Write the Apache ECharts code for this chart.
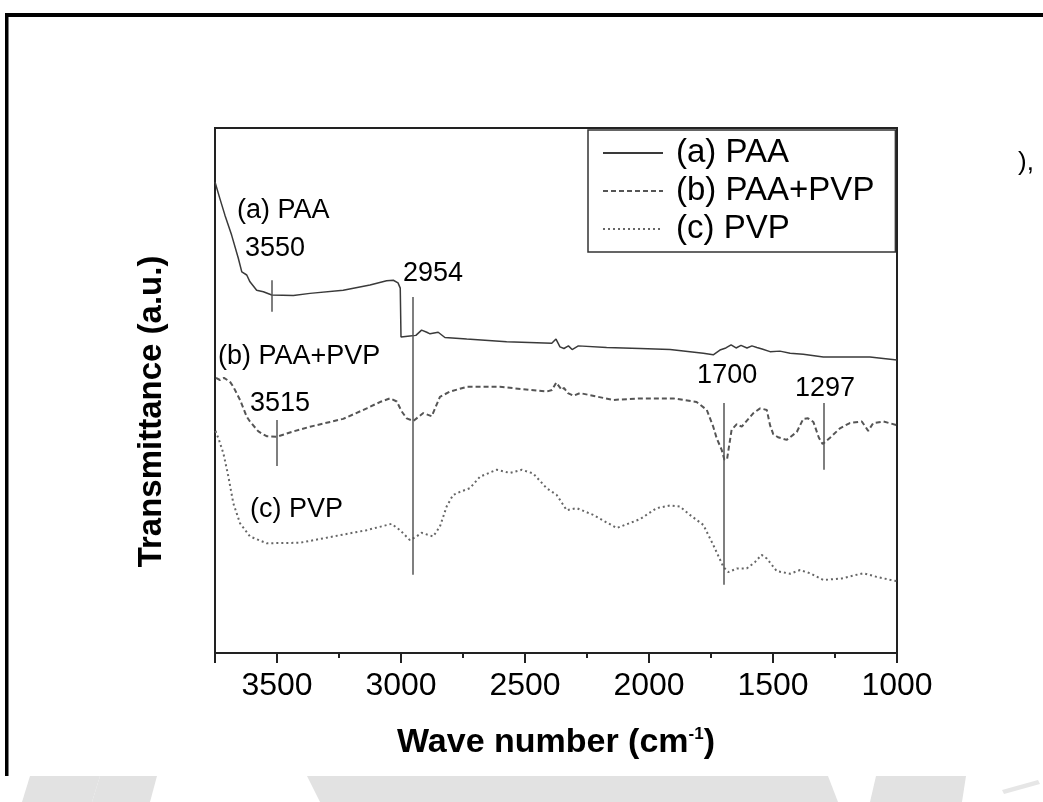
<!DOCTYPE html>
<html>
<head>
<meta charset="utf-8">
<title>FTIR</title>
<script src="https://cdn.jsdelivr.net/npm/echarts@6.0.0/dist/echarts.min.js"></script>
<style>
    html, body { margin: 0; padding: 0; background: #fff; }
    #ftirChart { width: 1043px; height: 802px; }
</style>
</head>
<body>
<div id="ftirChart"></div>
<script>
    // wave number (cm-1) and transmittance (a.u.)
    const waveA = [3750, 3730, 3710, 3683, 3656, 3642, 3622, 3609, 3582, 3555, 3521, 3434, 3367, 3233, 3125, 3058, 3031, 3012, 3003, 3000, 2964, 2940, 2917, 2896, 2883, 2850, 2823, 2735, 2574, 2392, 2375, 2359, 2343, 2325, 2310, 2285, 2171, 2036, 1915, 1781, 1741, 1714, 1690, 1669, 1649, 1629, 1605, 1585, 1565, 1544, 1512, 1472, 1431, 1378, 1297, 1109, 1055, 1000]
    const transA = [89.7, 86.5, 83.4, 79.6, 75.2, 72.6, 72.0, 70.7, 69.1, 68.8, 68.2, 68.1, 68.5, 69.1, 70.1, 70.9, 71.0, 70.5, 69.5, 60.2, 60.4, 60.5, 61.5, 61.1, 60.8, 61.1, 60.1, 59.8, 59.3, 59.0, 59.8, 58.3, 58.0, 58.5, 57.8, 58.5, 58.2, 58.0, 57.8, 57.1, 56.8, 57.7, 58.1, 58.7, 58.1, 58.6, 58.1, 58.5, 58.2, 57.9, 57.4, 57.5, 57.1, 56.9, 56.4, 56.4, 56.1, 55.8]

    const waveB = [3746, 3730, 3714, 3690, 3676, 3649, 3622, 3609, 3575, 3542, 3501, 3434, 3367, 3233, 3138, 3085, 3044, 3017, 2997, 2977, 2950, 2910, 2876, 2843, 2802, 2735, 2601, 2413, 2391, 2374, 2352, 2343, 2327, 2305, 2278, 2144, 2036, 1902, 1808, 1767, 1741, 1727, 1707, 1696, 1685, 1667, 1646, 1626, 1579, 1552, 1525, 1512, 1499, 1480, 1445, 1404, 1378, 1359, 1337, 1315, 1300, 1270, 1230, 1190, 1142, 1116, 1096, 1055, 1000]
    const transB = [52.4, 52.0, 52.4, 51.7, 50.7, 48.2, 45.0, 44.1, 42.2, 41.3, 41.2, 42.2, 43.1, 44.6, 46.6, 47.8, 48.5, 47.9, 46.0, 44.7, 44.2, 45.7, 45.1, 48.8, 49.8, 50.7, 50.7, 49.8, 50.1, 51.5, 50.1, 50.5, 49.5, 49.0, 49.5, 48.2, 48.5, 48.5, 47.8, 46.3, 43.1, 40.9, 38.7, 36.8, 37.0, 42.5, 43.6, 43.1, 45.7, 46.6, 46.3, 43.4, 41.7, 41.1, 40.6, 42.1, 44.6, 44.7, 44.0, 41.0, 39.8, 41.0, 42.8, 43.8, 44.1, 42.3, 43.8, 44.1, 43.4]

    const waveC = [3748, 3734, 3716, 3696, 3676, 3649, 3609, 3542, 3407, 3273, 3138, 3038, 3004, 2964, 2940, 2917, 2870, 2843, 2816, 2790, 2762, 2722, 2681, 2614, 2560, 2513, 2467, 2413, 2372, 2332, 2292, 2225, 2130, 2036, 1969, 1915, 1875, 1835, 1781, 1741, 1700, 1680, 1646, 1606, 1573, 1546, 1525, 1485, 1431, 1391, 1351, 1297, 1223, 1136, 1082, 1015, 1000]
    const transC = [42.3, 40.6, 38.0, 33.6, 28.5, 24.7, 22.2, 20.9, 21.0, 22.2, 23.4, 24.6, 23.4, 21.5, 22.1, 22.9, 22.2, 24.1, 27.9, 30.1, 30.7, 31.4, 33.6, 34.9, 34.3, 34.9, 34.2, 31.4, 30.1, 27.2, 27.6, 26.3, 23.8, 25.5, 27.6, 28.1, 27.9, 26.3, 24.4, 20.6, 16.4, 15.4, 16.1, 16.1, 17.3, 18.7, 18.0, 15.6, 15.1, 15.8, 15.2, 13.9, 14.2, 15.2, 14.5, 13.8, 13.7]

    const seriesNames = ['(a) PAA', '(b) PAA+PVP', '(c) PVP']

    // peak marker lines: position, top and bottom
    const markerWave = [3520, 2954, 3500, 1700, 1297]
    const markerTop = [71.0, 67.8, 44.4, 47.6, 47.6]
    const markerBottom = [65.0, 14.9, 35.6, 13.0, 34.9]

    // text annotations inside the plot (left edge, middle)
    const noteText = ['(a) PAA', '3550', '2954', '(b) PAA+PVP', '3515', '(c) PVP', '1700', '1297']
    const noteWave = [3661, 3629, 2992, 3738, 3609, 3609, 1806, 1411]
    const noteTrans = [84.2, 77.0, 72.3, 56.4, 47.6, 27.4, 52.8, 50.3]

    const xTicks = [1000, 1500, 2000, 2500, 3000, 3500]

    const FONT = '"Liberation Sans", Arial, Helvetica, sans-serif'

    const pairs = (xs, ys) => xs.map((x, i) => [x, ys[i]])

    const ftirOption = {
        animation: false,
        backgroundColor: '#fff',
        grid: {
            left: 215,
            right: 146,
            top: 128,
            bottom: 149,
            show: true,
            borderColor: '#222',
            borderWidth: 2
        },
        legend: {
            data: seriesNames,
            orient: 'vertical',
            left: 588,
            top: 130,
            padding: [4, 21, 4, 14],
            itemGap: 0,
            itemWidth: 60,
            itemHeight: 14,
            borderColor: '#333',
            borderWidth: 1.5,
            backgroundColor: '#fff',
            itemStyle: { opacity: 0, borderWidth: 0 },
            textStyle: {
                fontFamily: FONT,
                fontSize: 33,
                color: '#000',
                lineHeight: 38,
                padding: [0, 0, 0, 8]
            }
        },
        xAxis: {
            type: 'value',
            inverse: true,
            min: 1000,
            max: 3750,
            interval: 500,
            name: 'Wave number (cm{sup|-1})',
            nameLocation: 'middle',
            nameGap: 73,
            nameTextStyle: {
                fontFamily: FONT,
                fontSize: 34,
                fontWeight: 'bold',
                color: '#000',
                rich: {
                    sup: {
                        fontFamily: FONT,
                        fontSize: 17,
                        fontWeight: 'bold',
                        color: '#000',
                        verticalAlign: 'top'
                    }
                }
            },
            axisLine: { lineStyle: { color: '#222', width: 2 } },
            axisTick: { show: true, inside: false, length: 10, lineStyle: { color: '#222', width: 2 } },
            minorTick: { show: true, splitNumber: 2, length: 5, lineStyle: { color: '#222', width: 2 } },
            splitLine: { show: false },
            axisLabel: {
                showMaxLabel: false,
                margin: 17,
                fontFamily: FONT,
                fontSize: 32,
                color: '#000',
                formatter: v => (xTicks.indexOf(v) > -1 ? String(v) : '')
            }
        },
        yAxis: {
            type: 'value',
            min: 0,
            max: 100,
            name: 'Transmittance (a.u.)',
            nameLocation: 'middle',
            nameGap: 47,
            nameTextStyle: {
                fontFamily: FONT,
                fontSize: 33,
                fontWeight: 'bold',
                color: '#000',
                padding: [0, 42, 0, 0]
            },
            axisLine: { show: true, lineStyle: { color: '#222', width: 2 } },
            axisTick: { show: false },
            axisLabel: { show: false },
            splitLine: { show: false }
        },
        graphic: [
            // page frame and scan remains around the figure
            { type: 'rect', shape: { x: 5, y: 13, width: 1038, height: 4 }, style: { fill: '#000' } },
            { type: 'rect', shape: { x: 5, y: 13, width: 3.5, height: 763 }, style: { fill: '#000' } },
            { type: 'polygon', shape: { points: [[22, 802], [30, 776], [100, 776], [92, 802]] }, style: { fill: '#e2e2e2' } },
            { type: 'polygon', shape: { points: [[100, 776], [157, 776], [150, 802], [92, 802]] }, style: { fill: '#e2e2e2' } },
            { type: 'polygon', shape: { points: [[307, 776], [828, 776], [838, 802], [320, 802]] }, style: { fill: '#e2e2e2' } },
            { type: 'polygon', shape: { points: [[876, 776], [966, 776], [962, 802], [870, 802]] }, style: { fill: '#e2e2e2' } },
            { type: 'polygon', shape: { points: [[1002, 790], [1038, 780], [1040, 784], [1004, 794]] }, style: { fill: '#e6e6e6' } },
            {
                type: 'text', left: 1018, top: 150,
                style: { text: '),', font: '26px ' + FONT, fill: '#000' }
            }
        ],
        series: [
            {
                name: seriesNames[0],
                type: 'line',
                data: pairs(waveA, transA),
                showSymbol: false,
                symbol: 'none',
                lineStyle: { color: '#3a3a3a', width: 1.5, type: 'solid' },
                itemStyle: { color: '#3a3a3a' },
                markLine: {
                    silent: true,
                    symbol: 'none',
                    label: { show: false },
                    lineStyle: { color: '#555', width: 1.5, type: 'solid' },
                    data: markerWave.map((w, i) => [
                        { coord: [w, markerTop[i]] },
                        { coord: [w, markerBottom[i]] }
                    ])
                }
            },
            {
                name: seriesNames[1],
                type: 'line',
                data: pairs(waveB, transB),
                showSymbol: false,
                symbol: 'none',
                lineStyle: { color: '#555', width: 2, type: [5, 3] },
                itemStyle: { color: '#555' }
            },
            {
                name: seriesNames[2],
                type: 'line',
                data: pairs(waveC, transC),
                showSymbol: false,
                symbol: 'none',
                lineStyle: { color: '#666', width: 2, type: [2, 3] },
                itemStyle: { color: '#666' }
            },
            {
                // annotation labels
                type: 'scatter',
                silent: true,
                symbolSize: 0,
                itemStyle: { opacity: 1 },
                data: noteWave.map((w, i) => ({
                    value: [w, noteTrans[i]],
                    label: { formatter: noteText[i] }
                })),
                label: {
                    show: true,
                    position: 'right',
                    distance: 0,
                    fontFamily: FONT,
                    fontSize: 27,
                    color: '#000'
                }
            }
        ]
    }

    const ftirChart = echarts.init(document.getElementById('ftirChart'))
    ftirChart.setOption(ftirOption)
    window.addEventListener('resize', () => ftirChart.resize())
</script>
</body>
</html>
